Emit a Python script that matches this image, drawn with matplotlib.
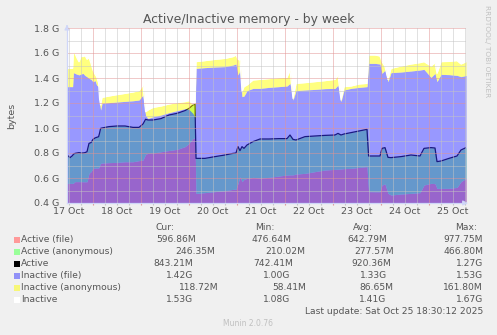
import matplotlib
matplotlib.use("Agg")
import matplotlib.pyplot as plt
from matplotlib.patches import Rectangle

# time in hours since 17 Oct 00:00, memory in GB
hours = [11.0, 12.5, 13.8, 14.2, 15.0, 16.0, 17.0, 18.0, 19.0, 20.0, 21.0, 22.0, 23.0,
         24.0, 25.0, 25.8, 26.8, 27.3, 27.8, 28.5, 32.0, 36.0, 40.0, 44.0, 47.0, 49.0,
         50.3, 51.5, 54.0, 58.0, 62.0, 66.0, 70.0, 72.0, 74.0, 75.0, 75.5, 80.0, 85.0,
         90.0, 94.0, 95.5, 96.5, 97.5, 98.5, 99.5, 101.0, 104.0, 107.5, 112.0, 117.0,
         121.0, 122.5, 124.0, 125.5, 130.0, 135.0, 140.0, 145.0, 146.5, 148.0, 149.5,
         153.0, 157.0, 161.0, 161.8, 165.0, 167.5, 168.5, 170.0, 171.5, 173.0, 178.0,
         183.0, 187.5, 189.5, 193.0, 195.0, 196.0, 198.0, 202.0, 206.0, 208.0, 210.5]

active_file = [0.557, 0.557, 0.557, 0.560, 0.571, 0.571, 0.571, 0.571, 0.570, 0.570, 0.570,
               0.637, 0.651, 0.677, 0.680, 0.680, 0.680, 0.700, 0.717, 0.720, 0.723, 0.725,
               0.730, 0.730, 0.739, 0.744, 0.790, 0.797, 0.800, 0.810, 0.820, 0.829, 0.851,
               0.877, 0.917, 0.920, 0.477, 0.483, 0.491, 0.499, 0.509, 0.510, 0.557, 0.611,
               0.571, 0.589, 0.597, 0.605, 0.600, 0.605, 0.616, 0.624, 0.625, 0.625, 0.632,
               0.637, 0.651, 0.664, 0.669, 0.670, 0.672, 0.675, 0.677, 0.685, 0.691, 0.491,
               0.490, 0.490, 0.544, 0.552, 0.477, 0.464, 0.472, 0.477, 0.483, 0.544, 0.557,
               0.555, 0.517, 0.517, 0.517, 0.525, 0.571, 0.597]

active = [0.784, 0.763, 0.780, 0.790, 0.797, 0.800, 0.803, 0.800, 0.800, 0.803, 0.810,
          0.877, 0.883, 0.909, 0.920, 0.925, 0.930, 0.960, 0.997, 1.000, 1.011, 1.016,
          1.016, 1.005, 1.005, 1.032, 1.070, 1.064, 1.064, 1.075, 1.104, 1.117, 1.139,
          1.157, 1.184, 1.190, 0.757, 0.757, 0.771, 0.784, 0.797, 0.800, 0.851, 0.819,
          0.851, 0.837, 0.864, 0.891, 0.912, 0.912, 0.915, 0.915, 0.944, 0.909, 0.904,
          0.931, 0.936, 0.941, 0.944, 0.957, 0.944, 0.952, 0.963, 0.976, 0.989, 0.776,
          0.776, 0.776, 0.837, 0.843, 0.765, 0.763, 0.771, 0.784, 0.776, 0.837, 0.843,
          0.840, 0.731, 0.736, 0.757, 0.776, 0.824, 0.843]

inactive_file = [1.331, 1.331, 1.331, 1.443, 1.437, 1.430, 1.425, 1.432, 1.437, 1.420, 1.410,
                 1.397, 1.390, 1.370, 1.380, 1.344, 1.330, 1.200, 1.144, 1.197, 1.203, 1.208,
                 1.213, 1.218, 1.224, 1.264, 1.100, 1.077, 1.090, 1.104, 1.123, 1.139, 1.155,
                 1.149, 1.117, 1.080, 1.477, 1.483, 1.488, 1.491, 1.504, 1.512, 1.424, 1.464,
                 1.251, 1.256, 1.299, 1.317, 1.317, 1.325, 1.331, 1.336, 1.357, 1.224, 1.299,
                 1.304, 1.309, 1.315, 1.317, 1.344, 1.211, 1.304, 1.317, 1.325, 1.331, 1.517,
                 1.517, 1.512, 1.437, 1.464, 1.371, 1.443, 1.448, 1.456, 1.464, 1.469, 1.405,
                 1.437, 1.371, 1.429, 1.427, 1.421, 1.411, 1.420]

inactive = [1.477, 1.477, 1.478, 1.603, 1.597, 1.560, 1.530, 1.575, 1.571, 1.580, 1.550,
            1.565, 1.517, 1.464, 1.430, 1.410, 1.360, 1.230, 1.184, 1.245, 1.256, 1.267,
            1.277, 1.288, 1.299, 1.344, 1.130, 1.144, 1.165, 1.176, 1.192, 1.203, 1.211,
            1.219, 1.192, 1.200, 1.531, 1.539, 1.549, 1.557, 1.571, 1.584, 1.549, 1.544,
            1.291, 1.331, 1.344, 1.384, 1.389, 1.395, 1.403, 1.405, 1.464, 1.237, 1.357,
            1.363, 1.371, 1.379, 1.389, 1.424, 1.224, 1.331, 1.336, 1.352, 1.357, 1.584,
            1.584, 1.576, 1.531, 1.491, 1.389, 1.477, 1.496, 1.512, 1.523, 1.531, 1.496,
            1.523, 1.437, 1.531, 1.533, 1.539, 1.512, 1.530]

day_labels = ["17 Oct", "18 Oct", "19 Oct", "20 Oct", "21 Oct",
              "22 Oct", "23 Oct", "24 Oct", "25 Oct"]
y_ticks = [0.4, 0.6, 0.8, 1.0, 1.2, 1.4, 1.6, 1.8]
y_labels = ["0.4 G", "0.6 G", "0.8 G", "1.0 G", "1.2 G", "1.4 G", "1.6 G", "1.8 G"]

legend_names = ["Active (file)", "Active (anonymous)", "Active",
                "Inactive (file)", "Inactive (anonymous)", "Inactive"]
legend_colors = ["#ff9999", "#99ff99", "#000000", "#9191f7", "#f7f778", "#ffffff"]
cur_vals = ["596.86M", "246.35M", "843.21M", "1.42G", "118.72M", "1.53G"]
min_vals = ["476.64M", "210.02M", "742.41M", "1.00G", "58.41M", "1.08G"]
avg_vals = ["642.79M", "277.57M", "920.36M", "1.33G", "86.65M", "1.41G"]
max_vals = ["977.75M", "466.80M", "1.27G", "1.53G", "161.80M", "1.67G"]

W, H = 497, 335
txt = "#555555"
fig = plt.figure(figsize=(W / 100, H / 100), dpi=100, facecolor="#f0f0f0")
ax = fig.add_axes([67 / W, 132 / H, 399 / W, 175 / H])
ax.set_facecolor("white")

# active areas, then inactive areas drawn translucent over them
ax.fill_between(hours, 0, active_file, color="#ff9999", lw=0, zorder=1)
ax.fill_between(hours, active_file, active, color="#99ff99", lw=0, zorder=1)
ax.plot(hours, active, color="black", lw=0.9, zorder=2)
ax.fill_between(hours, 0, inactive_file, color="#3333ff", alpha=0.5, lw=0, zorder=3)
ax.fill_between(hours, inactive_file, inactive, color="#ffff00", alpha=0.5, lw=0, zorder=3)
ax.plot(hours, inactive, color="white", lw=0.9, zorder=3)

ax.set_xlim(11, 210.5)
ax.set_ylim(0.4, 1.8)

red = "#e29494"
grey = "#c4c4c4"
dots = (0, (1, 1))
for v in [0.5, 0.7, 0.9, 1.1, 1.3, 1.5, 1.7]:
    ax.axhline(v, color=grey, lw=0.72, ls=dots, zorder=4)
for v in y_ticks[1:]:
    ax.axhline(v, color=red, lw=0.72, ls=dots, zorder=4)
midnights = [24 * d for d in range(1, 9)]
six_hours = [h for h in range(12, 211, 6) if h % 24 != 0]
for h in six_hours:
    ax.axvline(h, color=grey, lw=0.72, ls=dots, zorder=4)
for h in midnights:
    ax.axvline(h, color=red, lw=0.72, ls=dots, zorder=4)
ax.vlines(six_hours, -0.012, 0, transform=ax.get_xaxis_transform(),
          colors=grey, lw=0.8, clip_on=False)
ax.vlines(midnights, -0.014, 0, transform=ax.get_xaxis_transform(),
          colors=red, lw=0.8, clip_on=False)

ax.set_xticks([24 * d + 12 for d in range(0, 9)], day_labels)
ax.set_yticks(y_ticks, y_labels)
ax.tick_params(axis="x", length=0, pad=3.2, labelsize=6.8, labelcolor=txt)
ax.tick_params(axis="y", length=0, pad=5.6, labelsize=6.8, labelcolor=txt)

axis_col = "#cfd6f8"
for s in ["top", "right"]:
    ax.spines[s].set_visible(False)
for s in ["left", "bottom"]:
    ax.spines[s].set_color(axis_col)
    ax.spines[s].set_linewidth(0.9)
    ax.spines[s].set_zorder(5)
ax.annotate("", xy=(1.012, 0), xytext=(0.99, 0), xycoords="axes fraction",
            arrowprops=dict(arrowstyle="-|>", color=axis_col, lw=0.9, mutation_scale=7))
ax.annotate("", xy=(0, 1.035), xytext=(0, 0.99), xycoords="axes fraction",
            arrowprops=dict(arrowstyle="-|>", color=axis_col, lw=0.9, mutation_scale=7))

fig.text(249 / W, 1 - 19 / H, "Active/Inactive memory - by week", ha="center",
         va="center", fontsize=8.9, color=txt)
fig.text(12 / W, 1 - 116 / H, "bytes", rotation=90, ha="center", va="center",
         fontsize=6.8, color=txt)
fig.text(487.5 / W, 1 - 5 / H, "RRDTOOL/ TOBI OETIKER", rotation=270, ha="center",
         va="top", fontsize=5.3, color="#c0c0c0")

# legend table
fs = 6.6
header_y = 227.5
for label, xl in [("Cur:", 156), ("Min:", 255), ("Avg:", 353), ("Max:", 455)]:
    fig.text(xl / W, 1 - header_y / H, label, ha="left", va="center", fontsize=fs, color=txt)

right_edges = [[196, 292, 387, 483],
               [215, 305, 394, 483],
               [193, 293, 391, 483],
               [193, 290, 387, 483],
               [219, 306, 393, 483],
               [193, 290, 386, 483]]
for i, name in enumerate(legend_names):
    y = 239.5 + 12 * i
    fig.patches.append(Rectangle((14 / W, 1 - (y + 3) / H), 6 / W, 6 / H,
                                 transform=fig.transFigure, facecolor=legend_colors[i],
                                 edgecolor="none"))
    fig.text(20.7 / W, 1 - y / H, name, ha="left", va="center", fontsize=fs, color=txt)
    vals = [cur_vals[i], min_vals[i], avg_vals[i], max_vals[i]]
    for v, xr in zip(vals, right_edges[i]):
        fig.text(xr / W, 1 - y / H, v, ha="right", va="center", fontsize=fs, color=txt)

fig.text(483 / W, 1 - 311.5 / H, "Last update: Sat Oct 25 18:30:12 2025", ha="right",
         va="center", fontsize=fs, color=txt)
fig.text(248 / W, 1 - 324 / H, "Munin 2.0.76", ha="center", va="center",
         fontsize=5.5, color="#c0c0c0")

fig.savefig("out.png", dpi=100, facecolor=fig.get_facecolor())
